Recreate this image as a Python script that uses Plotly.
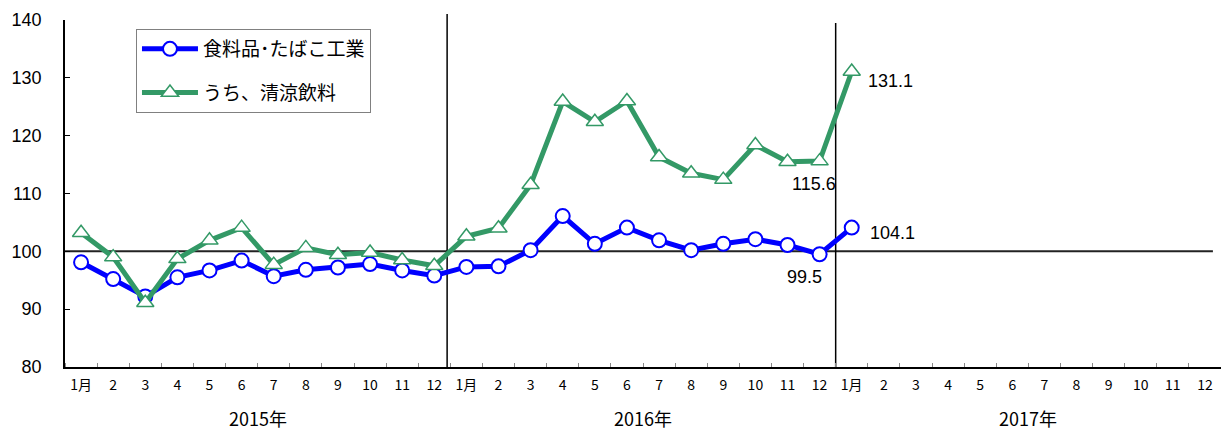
import plotly.graph_objects as go

months = ["1月"] + [str(i) for i in range(2, 13)]
tick_labels = months * 3
years = ["2015年", "2016年", "2017年"]

food_name = "食料品･たばこ工業"
food = [98.1, 95.2, 92.2, 95.5, 96.7, 98.4, 95.7, 96.8, 97.2, 97.8, 96.7, 95.8,
        97.3, 97.4, 100.2, 106.1, 101.3, 104.1, 101.9, 100.2, 101.3, 102.1, 101.1, 99.5,
        104.1]
drink_name = "うち、清涼飲料"
drink = [103.2, 99.0, 91.1, 98.7, 101.9, 104.1, 97.7, 100.6, 99.4, 99.8, 98.5, 97.5,
         102.6, 104.0, 111.5, 125.9, 122.4, 126.0, 116.3, 113.5, 112.4, 118.4, 115.5, 115.6,
         131.1]

x_food = list(range(len(food)))
x_drink = list(range(len(drink)))

num_font = "Liberation Sans, Arial, Noto Sans CJK JP, sans-serif"
jp_font = "Noto Sans CJK JP, sans-serif"

fig = go.Figure()
fig.add_trace(go.Scatter(
    x=x_food, y=food, name=food_name, mode="lines+markers", legendgroup="a",
    line=dict(color="#0000FF", width=5),
    marker=dict(symbol="circle", size=14, color="white", line=dict(color="#0000FF", width=2)),
))
fig.add_trace(go.Scatter(
    x=x_drink, y=drink, name=drink_name, mode="lines+markers", legendgroup="b",
    line=dict(color="#339966", width=5),
    marker=dict(symbol="triangle-up", size=15, color="white", line=dict(color="#339966", width=1.5)),
))

# value labels
last = len(food) - 1
fig.add_annotation(x=last, y=drink[last], text=f"{drink[last]:.1f}", showarrow=False,
                   xanchor="left", xshift=14, yshift=-10, font=dict(size=18, family=num_font, color="black"))
fig.add_annotation(x=last, y=food[last], text=f"{food[last]:.1f}", showarrow=False,
                   xanchor="left", xshift=16, yshift=-5, font=dict(size=18, family=num_font, color="black"))
fig.add_annotation(x=last - 1, y=drink[last - 1], text=f"{drink[last - 1]:.1f}", showarrow=False,
                   xanchor="center", xshift=-6, yshift=-23, font=dict(size=18, family=num_font, color="black"))
fig.add_annotation(x=last - 1, y=food[last - 1], text=f"{food[last - 1]:.1f}", showarrow=False,
                   xanchor="center", xshift=-15, yshift=-23, font=dict(size=18, family=num_font, color="black"))

# year labels
for i, yr in enumerate(years):
    fig.add_annotation(x=i * 12 + 5.5, y=-0.19, yref="paper", text=yr, showarrow=False,
                       font=dict(size=18, family=jp_font, color="black"))

# reference lines
fig.add_shape(type="line", xref="paper", yref="y", x0=0, x1=0.993, y0=100, y1=100,
              line=dict(color="#222222", width=2), layer="below")
fig.add_shape(type="line", xref="x", yref="paper", x0=11.4, x1=11.4, y0=0, y1=1.017,
              line=dict(color="black", width=1.5), layer="below")
fig.add_shape(type="line", xref="x", yref="paper", x0=23.5, x1=23.5, y0=0, y1=0.991,
              line=dict(color="black", width=1.5), layer="below")

fig.update_layout(
    width=1221, height=433,
    margin=dict(l=65, r=0, t=20, b=66),
    plot_bgcolor="white", paper_bgcolor="white",
    showlegend=True,
    legend=dict(x=0.0614, y=0.974, xanchor="left", yanchor="top",
                bordercolor="#808080", borderwidth=1, bgcolor="white",
                font=dict(size=19, family=jp_font, color="black"),
                tracegroupgap=16, traceorder="grouped", itemwidth=56),
    font=dict(family=num_font, color="black"),
)
fig.update_xaxes(
    range=[-0.5, 35.5], tickmode="array", tickvals=list(range(36)), ticktext=tick_labels,
    ticks="", showline=True, linecolor="black", linewidth=1.5, showgrid=False, zeroline=False,
    tickfont=dict(size=14, family="Liberation Sans Narrow, Noto Sans CJK JP, sans-serif", color="black"),
    ticklabelstandoff=4,
    minor=dict(ticks="inside", tick0=-0.5, dtick=1, ticklen=4, tickcolor="#888888", showgrid=False),
)
fig.update_yaxes(
    range=[80, 140], dtick=10, ticks="inside", ticklen=5, tickcolor="black",
    showline=True, linecolor="black", linewidth=1.5, showgrid=False, zeroline=False,
    tickfont=dict(size=18, family=num_font, color="black"), ticklabelstandoff=18,
)

fig.write_html("out.html")
